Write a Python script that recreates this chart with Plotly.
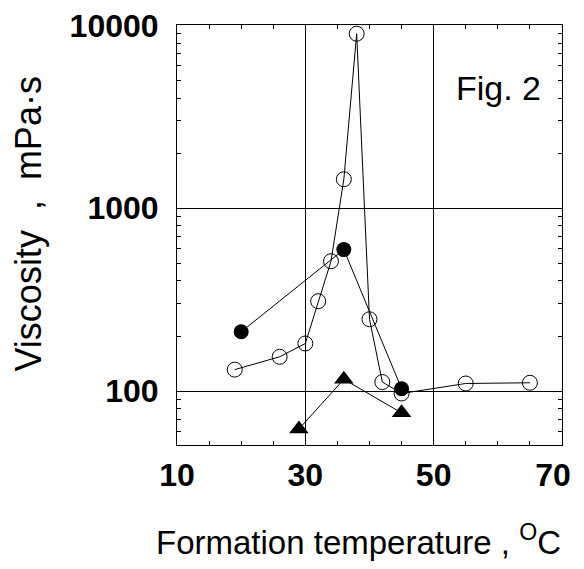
import plotly.graph_objs as go

# ---- data ------------------------------------------------------------------
temp_open = [19, 26, 30, 32, 34, 36, 38, 40, 42, 45, 55, 65]
visc_open = [131, 154, 182, 310, 513, 1440, 9000, 247, 112, 97, 110, 111]

temp_filled = [20, 36, 45]
visc_filled = [211, 594, 103]

temp_tri = [29, 36, 45]
visc_tri = [62, 116, 76]

x_ticks = [10, 30, 50, 70]
x_labels = ['10', '30', '50', '70\u00a0\u00a0']  # nbsp pads keep "70" inside the page
y_ticks = [100, 1000, 10000]

FONT = 'Liberation Sans, Arial, sans-serif'

# ----------------------------------------------------------------------------

traces = [
    go.Scatter(x=temp_open, y=visc_open, mode='lines+markers',
               line=dict(color='black', width=1),
               marker=dict(symbol='circle-open', size=15, color='black', line=dict(width=1))),
    go.Scatter(x=temp_filled, y=visc_filled, mode='lines+markers',
               line=dict(color='black', width=1),
               marker=dict(symbol='circle', size=15, color='black')),
    go.Scatter(x=temp_tri, y=visc_tri, mode='lines+markers',
               line=dict(color='black', width=1),
               marker=dict(symbol='triangle-up', size=17, color='black')),
]

axis_common = dict(showline=True, linecolor='black', linewidth=1, mirror='allticks',
                   ticks='inside', ticklen=5, tickcolor='black', automargin=False,
                   ticklabeloverflow='allow',
                   showgrid=True, gridcolor='black', gridwidth=1, zeroline=False,
                   tickfont=dict(family=FONT, size=32, color='black', weight='bold'))

# the page body has an 8px margin, so the figure is shifted by 8px
layout = go.Layout(
    width=576, height=553,
    margin=dict(l=169, r=22, t=17, b=116),
    paper_bgcolor='white', plot_bgcolor='white',
    showlegend=False,
    xaxis=dict(range=[10, 70], tickvals=x_ticks, ticktext=x_labels,
               ticklabelstandoff=2,
               minor=dict(dtick=5, tick0=10, ticks='inside', ticklen=4, tickcolor='black', showgrid=False),
               **axis_common),
    yaxis=dict(type='log', range=[1.705, 4.002], tickvals=y_ticks, ticktext=[str(v) for v in y_ticks],
               ticklabelstandoff=11,
               minor=dict(dtick='D1', ticks='inside', ticklen=4, tickcolor='black', showgrid=False),
               **axis_common),
)

fig = go.Figure(data=traces, layout=layout)

# Axis titles and figure label
fig.add_annotation(xref='paper', yref='paper', x=-0.387, y=0.525, textangle=-90,
                   showarrow=False, xanchor='center', yanchor='middle',
                   text='Viscosity  ,  mPa·s', font=dict(family=FONT, size=36, color='black'))
fig.add_annotation(xref='paper', yref='paper', x=0.472, y=-0.225,
                   showarrow=False, xanchor='center', yanchor='middle',
                   text='Formation temperature , <sup>O</sup>C', font=dict(family=FONT, size=33, color='black'))
fig.add_annotation(xref='paper', yref='paper', x=0.834, y=0.85,
                   showarrow=False, xanchor='center', yanchor='middle',
                   text='Fig. 2', font=dict(family=FONT, size=34, color='black'))

fig.write_html("out.html")
